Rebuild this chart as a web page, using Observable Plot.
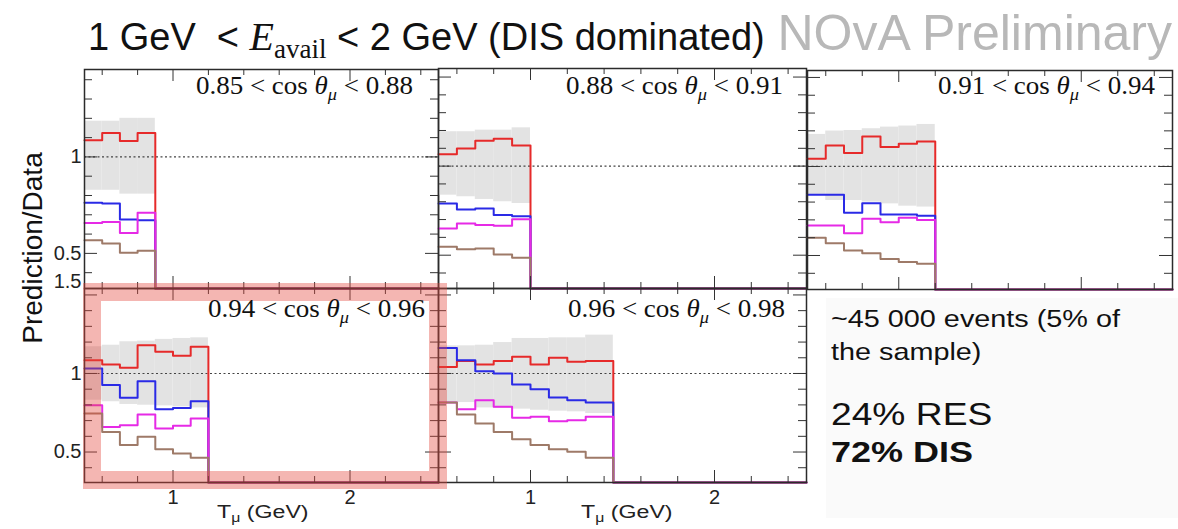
<!DOCTYPE html>
<html><head><meta charset="utf-8">
<script src="https://cdn.jsdelivr.net/npm/d3@7"></script>
<script src="https://cdn.jsdelivr.net/npm/@observablehq/plot@0.6"></script>
<style>
body{margin:0;background:#fff;}
#wrap{position:relative;width:1178px;height:529px;overflow:hidden;background:#fff;font-family:"Liberation Sans",Arial,sans-serif;}
.panel{position:absolute;}
#hl{position:absolute;left:83px;top:283px;width:364px;height:206px;box-sizing:border-box;border:18px solid rgba(228,72,62,0.4);}
#overlay{position:absolute;left:0;top:0;}
</style></head><body><div id="wrap"></div>
<script>
// ---- labels / ticks ----
const cosBins = [["0.85","0.88"],["0.88","0.91"],["0.91","0.94"],["0.94","0.96"],["0.96","0.98"]];
const xTickLabels = [1, 2];
const yTickLabelsTop = [0.5, 1];
const yTickLabelsBottom = [0.5, 1, 1.5];
const xMinorTicks = [0.6, 0.8, 1.2, 1.4, 1.6, 1.8, 2.2, 2.4];
const xMajorTicks = [1, 2];
const yMinorTicks = [0.4, 0.6, 0.7, 0.8, 0.9, 1.1, 1.2, 1.3, 1.4];
const yMajorTicks = [0.5, 1, 1.5];

// ---- panel 1: 0.85 < cos < 0.88 ----
const p1Edges   = [0.5, 0.6, 0.7, 0.8, 0.9];
const p1BandHi  = [1.185, 1.185, 1.20, 1.20];
const p1BandLo  = [0.827, 0.827, 0.807, 0.807];
const p1Red     = [1.086, 1.124, 1.083, 1.124];
const p1Blue    = [0.762, 0.758, 0.675, 0.672];
const p1Magenta = [0.658, 0.663, 0.606, 0.710];
const p1Brown   = [0.568, 0.551, 0.503, 0.513];

// ---- panel 2: 0.88 < cos < 0.91 ----
const p2Edges   = [0.5, 0.6, 0.7, 0.8, 0.9, 1.0];
const p2BandHi  = [1.193, 1.193, 1.202, 1.202, 1.215];
const p2BandLo  = [0.837, 0.828, 0.813, 0.800, 0.790];
const p2Red     = [1.067, 1.099, 1.142, 1.154, 1.116];
const p2Blue    = [0.790, 0.757, 0.762, 0.725, 0.719];
const p2Magenta = [0.650, 0.678, 0.669, 0.665, 0.702];
const p2Brown   = [0.547, 0.534, 0.537, 0.504, 0.485];

// ---- panel 3: 0.91 < cos < 0.94 ----
const p3Edges   = [0.5, 0.6, 0.7, 0.8, 0.9, 1.0, 1.1, 1.2];
const p3BandHi  = [1.180, 1.199, 1.202, 1.212, 1.221, 1.227, 1.236];
const p3BandLo  = [0.837, 0.809, 0.809, 0.800, 0.790, 0.777, 0.772];
const p3Red     = [1.043, 1.118, 1.075, 1.169, 1.109, 1.127, 1.140];
const p3Blue    = [0.841, 0.841, 0.740, 0.794, 0.730, 0.730, 0.723];
const p3Magenta = [0.669, 0.669, 0.625, 0.706, 0.687, 0.712, 0.700];
const p3Brown   = [0.599, 0.569, 0.528, 0.513, 0.481, 0.463, 0.453];

// ---- panel 4: 0.94 < cos < 0.96 ----
const p4Edges   = [0.5, 0.6, 0.7, 0.8, 0.9, 1.0, 1.1, 1.2];
const p4BandHi  = [1.170, 1.180, 1.202, 1.206, 1.217, 1.223, 1.227];
const p4BandLo  = [0.830, 0.820, 0.803, 0.798, 0.794, 0.788, 0.781];
const p4Red     = [1.085, 1.057, 1.036, 1.180, 1.138, 1.113, 1.170];
const p4Blue    = [1.032, 0.926, 0.845, 0.951, 0.773, 0.781, 0.824];
const p4Magenta = [0.798, 0.660, 0.671, 0.739, 0.650, 0.667, 0.713];
const p4Brown   = [0.745, 0.628, 0.544, 0.597, 0.518, 0.490, 0.463];

// ---- panel 5: 0.96 < cos < 0.98 ----
const p5Edges   = [0.5, 0.6, 0.7, 0.8, 0.9, 1.0, 1.1, 1.2, 1.3, 1.45];
const p5BandHi  = [1.176, 1.176, 1.180, 1.197, 1.223, 1.223, 1.227, 1.227, 1.244];
const p5BandLo  = [0.815, 0.815, 0.781, 0.777, 0.773, 0.766, 0.760, 0.756, 0.745];
const p5Red     = [1.042, 1.079, 1.057, 1.079, 1.106, 1.057, 1.100, 1.074, 1.079];
const p5Blue    = [1.163, 1.085, 1.015, 1.000, 0.930, 0.900, 0.847, 0.830, 0.815];
const p5Magenta = [0.815, 0.773, 0.830, 0.788, 0.718, 0.724, 0.696, 0.703, 0.724];
const p5Brown   = [0.815, 0.739, 0.682, 0.628, 0.582, 0.544, 0.518, 0.501, 0.463];

const panelsData = [
  {edges: p1Edges, hi: p1BandHi, lo: p1BandLo, red: p1Red, blue: p1Blue, magenta: p1Magenta, brown: p1Brown},
  {edges: p2Edges, hi: p2BandHi, lo: p2BandLo, red: p2Red, blue: p2Blue, magenta: p2Magenta, brown: p2Brown},
  {edges: p3Edges, hi: p3BandHi, lo: p3BandLo, red: p3Red, blue: p3Blue, magenta: p3Magenta, brown: p3Brown},
  {edges: p4Edges, hi: p4BandHi, lo: p4BandLo, red: p4Red, blue: p4Blue, magenta: p4Magenta, brown: p4Brown},
  {edges: p5Edges, hi: p5BandHi, lo: p5BandLo, red: p5Red, blue: p5Blue, magenta: p5Magenta, brown: p5Brown}
];

// ---- layout (pixels) ----
const layout = [
  {left: 84,  top: 69,  w: 354, h: 219, y: [0.318, 1.453], mL: 84, mB: 0,  yLab: yTickLabelsTop,    xLab: false, labR: 413,  labB: 93.5},
  {left: 438, top: 68,  w: 368, h: 220, y: [0.313, 1.548], mL: 0,  mB: 0,  yLab: null,              xLab: false, labR: 783,  labB: 93.5},
  {left: 807, top: 70,  w: 365, h: 219, y: [0.309, 1.539], mL: 0,  mB: 0,  yLab: null,              xLab: false, labR: 1155, labB: 93.5},
  {left: 84,  top: 288, w: 354, h: 194, y: [0.306, 1.541], mL: 84, mB: 45, yLab: yTickLabelsBottom, xLab: true,  labR: 425,  labB: 316.5},
  {left: 438, top: 288, w: 368, h: 194, y: [0.306, 1.541], mL: 0,  mB: 45, yLab: null,              xLab: true,  labR: 785,  labB: 316.5}
];
const xDomain = [0.5, 2.5];
const colors = {red: "#e62a2a", blue: "#2a2ae6", magenta: "#e62ae6", brown: "#9e7a68"};
const FONT = "Liberation Sans, Arial, sans-serif";

const wrap = document.getElementById("wrap");

layout.forEach((L, k) => {
  const d = panelsData[k];
  const n = d.red.length;
  const ylo = L.y[0];
  const inY = v => v > L.y[0] && v < L.y[1];
  const bins = d.red.map((_, i) => ({x1: d.edges[i], x2: d.edges[i + 1], lo: d.lo[i], hi: d.hi[i]}));
  const marks = [
    Plot.rect(bins, {x1: "x1", x2: "x2", y1: "lo", y2: "hi", fill: "#e3e3e3"}),
    Plot.ruleY([1], {stroke: "#444", strokeDasharray: "2,2.5", strokeWidth: 1.2})
  ];
  for (const name of ["red", "blue", "magenta", "brown"]) {
    const vals = d[name];
    const pts = vals.map((v, i) => ({x: d.edges[i], y: v}));
    pts.push({x: d.edges[n], y: ylo}, {x: xDomain[1], y: ylo});
    marks.push(Plot.line(pts, {x: "x", y: "y", curve: "step-after", stroke: colors[name], strokeWidth: 2}));
  }
  const yMin = yMinorTicks.filter(inY), yMaj = yMajorTicks.filter(inY);
  marks.push(
    Plot.tickY(yMin, {y: v => v, insetRight: L.w - 8, stroke: "#333"}),
    Plot.tickY(yMaj, {y: v => v, insetRight: L.w - 13, stroke: "#333"}),
    Plot.tickY(yMin, {y: v => v, insetLeft: L.w - 8, stroke: "#333"}),
    Plot.tickY(yMaj, {y: v => v, insetLeft: L.w - 13, stroke: "#333"}),
    Plot.tickX(xMinorTicks, {x: v => v, insetTop: L.h - 6, stroke: "#333"}),
    Plot.tickX(xMajorTicks, {x: v => v, insetTop: L.h - 12, stroke: "#333"}),
    Plot.tickX(xMinorTicks, {x: v => v, insetBottom: L.h - 6, stroke: "#333"}),
    Plot.tickX(xMajorTicks, {x: v => v, insetBottom: L.h - 12, stroke: "#333"}),
    Plot.frame({stroke: "#2b2b2b", strokeWidth: 1.5})
  );
  if (L.yLab) {
    marks.push(Plot.text(L.yLab.filter(v => v !== 1.5), {y: v => v, text: v => String(v), frameAnchor: "left", textAnchor: "end", dx: -3, fontSize: 20, fill: "#222"}));
    const top = L.yLab.filter(v => v === 1.5);
    if (top.length) marks.push(Plot.text(top, {y: v => v, text: v => String(v), frameAnchor: "left", textAnchor: "end", dx: -3, dy: -13, fontSize: 20, fill: "#222"}));
  }
  if (L.xLab) {
    marks.push(Plot.text(xTickLabels, {x: v => v, text: v => String(v), frameAnchor: "bottom", lineAnchor: "top", dy: 7, fontSize: 20, fill: "#222"}));
  }
  const chart = Plot.plot({
    width: L.w + L.mL, height: L.h + L.mB,
    marginLeft: L.mL, marginRight: 0, marginTop: 0, marginBottom: L.mB,
    x: {domain: xDomain, axis: null},
    y: {domain: L.y, axis: null},
    style: {background: "transparent", fontFamily: FONT, overflow: "visible"},
    marks
  });
  chart.classList.add("panel");
  chart.style.left = (L.left - L.mL) + "px";
  chart.style.top = L.top + "px";
  wrap.appendChild(chart);
});

// highlight box
const hl = document.createElement("div"); hl.id = "hl"; wrap.appendChild(hl);

// text overlay
const svg = d3.select(wrap).append("svg").attr("id", "overlay").attr("width", 1178).attr("height", 529)
  .style("font-family", FONT);

svg.append("rect").attr("x", 826).attr("y", 298).attr("width", 352).attr("height", 220).attr("fill", "#fafafa");

// title
const t = svg.append("text").attr("x", 88).attr("y", 50).attr("font-size", 38).attr("fill", "#111").style("white-space", "pre");
t.append("tspan").text("1 GeV  < ");
t.append("tspan").attr("font-family", "Liberation Serif, serif").attr("font-style", "italic").attr("font-size", 40).text("E");
t.append("tspan").attr("font-family", "Liberation Serif, serif").attr("font-size", 27).attr("dy", 8).text("avail");
t.append("tspan").attr("dy", -8).text(" < 2 GeV (DIS dominated)");

svg.append("text").attr("x", 1172).attr("y", 50).attr("text-anchor", "end").attr("font-size", 50).attr("fill", "#b8b8b8").text("NOvA Preliminary");

svg.append("text").attr("transform", "translate(42,248) rotate(-90)").attr("text-anchor", "middle").attr("font-size", 28).attr("fill", "#111").text("Prediction/Data");

// panel labels
layout.forEach((L, k) => {
  const [a, b] = cosBins[k];
  const tx = svg.append("text").attr("transform", `translate(${L.labR},${L.labB}) scale(1.08,1)`).attr("text-anchor", "end")
    .attr("font-family", "Liberation Serif, serif").attr("font-size", 25).attr("fill", "#111").style("white-space", "pre");
  tx.append("tspan").text(`${a} < cos `);
  tx.append("tspan").attr("font-style", "italic").text("θ");
  tx.append("tspan").attr("font-style", "italic").attr("font-size", 17).attr("dy", 6).text("μ");
  tx.append("tspan").attr("dy", -6).text(` < ${b}`);
});

// x titles
[217, 581].forEach(x0 => {
  const tx = svg.append("text").attr("transform", `translate(${x0},518) scale(1.22,1)`).attr("font-size", 19).attr("fill", "#222").style("white-space", "pre");
  tx.append("tspan").text("T");
  tx.append("tspan").attr("font-size", 13).attr("dy", 4).text("μ");
  tx.append("tspan").attr("dy", -4).text(" (GeV)");
});

// info box
const info = [
  {text: "~45 000 events (5% of", y: 327, size: 24, weight: "normal"},
  {text: "the sample)", y: 360, size: 24, weight: "normal"},
  {text: "24% RES", y: 425, size: 31, weight: "normal"},
  {text: "72% DIS", y: 462, size: 30, weight: "bold"}
];
info.forEach(r => {
  svg.append("text").attr("transform", `translate(831,${r.y}) scale(1.2,1)`).attr("font-size", r.size)
    .attr("font-weight", r.weight).attr("fill", "#111").style("white-space", "pre").text(r.text);
});
</script></body></html>
